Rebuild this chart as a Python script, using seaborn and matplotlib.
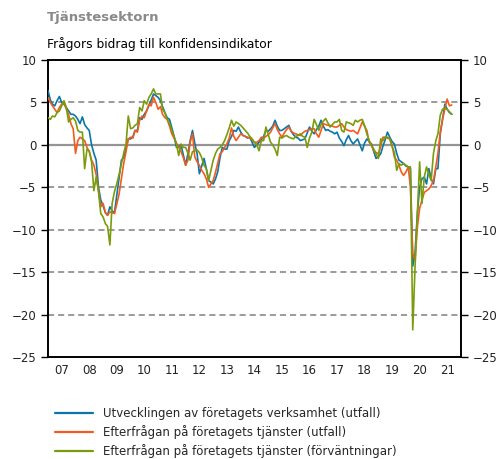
import numpy as np
import pandas as pd
import matplotlib
matplotlib.use("Agg")
import matplotlib.pyplot as plt
import matplotlib.dates as mdates
import seaborn as sns

# ── Data (monthly, Jan 2007 – Sep 2021) ───────────────────────────────────
START = "2007-01-01"

verksamhet_utfall = [
    6.4, 5.3, 4.8, 4.6, 5.2, 5.7, 5.0, 4.8, 4.4, 4.0, 3.6, 3.6,          # 2007
    3.4, 3.0, 2.5, 3.3, 2.4, 2.0, 1.7, 0.0, -1.0, -1.8, -5.0, -6.5,      # 2008
    -7.2, -8.0, -8.3, -7.3, -7.8, -8.0, -6.0, -4.0, -1.8, -1.5, -0.3, 0.7,  # 2009
    0.7, 1.0, 1.7, 1.7, 3.2, 3.0, 3.6, 4.0, 4.6, 5.3, 6.0, 5.8,          # 2010
    5.6, 5.2, 4.5, 3.8, 3.2, 3.0, 2.0, 1.0, -0.3, -0.2, 0.0, -1.2,       # 2011
    -2.4, -1.0, 0.5, 1.7, 0.2, -1.05, -3.4, -2.5, -1.6, -2.8, -4.2, -4.4,  # 2012
    -4.6, -4.0, -3.2, -1.5, -0.3, -0.5, -0.5, 0.5, 1.0, 1.7, 1.6, 2.1,   # 2013
    1.5, 1.1, 1.0, 0.8, 0.9, 0.3, -0.3, 0.0, 0.3, 0.6, 1.0, 1.7,         # 2014
    1.6, 1.9, 2.2, 2.9, 2.2, 1.7, 1.7, 1.9, 2.1, 2.3, 1.6, 1.2,          # 2015
    0.9, 0.8, 0.5, 0.6, 0.7, 1.4, 2.1, 1.6, 1.3, 1.8, 2.2, 2.9,          # 2016
    2.2, 1.7, 1.8, 1.6, 1.5, 1.3, 1.5, 0.8, 0.4, -0.1, 0.6, 1.1,         # 2017
    0.5, 0.1, 0.4, 0.7, 0.0, -0.7, 0.2, 0.7, 0.4, 0.1, -0.8, -1.6,       # 2018
    -1.4, -1.05, -0.2, 0.6, 1.5, 0.9, 0.4, 0.1, -1.0, -1.8, -2.0, -2.2,  # 2019
    -2.5, -2.6, -2.8, -14.3, -12.8, -8.1, -5.0, -4.0, -3.8, -4.6, -2.8, -4.0,  # 2020
    -4.6, -2.8, -2.8, 1.3, 3.0, 4.8, 4.2, 3.8, 3.6,                      # 2021
]

efterfragan_utfall = [
    5.6, 5.0, 4.6, 4.2, 3.8, 4.4, 4.8, 5.0, 4.2, 3.6, 2.5, 1.9,
    -1.0, 0.5, 0.9, 0.7, 0.5, -0.3, -0.8, -1.8, -2.4, -3.5, -5.4, -7.3,
    -6.9, -8.0, -8.3, -7.9, -8.0, -8.1, -7.0, -5.8, -4.0, -2.2, -0.8, 0.7,
    0.9, 0.8, 1.7, 1.5, 2.9, 3.4, 3.2, 4.0, 4.8, 4.6, 5.6, 5.0,
    4.2, 4.5, 3.6, 3.2, 3.0, 2.2, 1.3, 0.8, 0.2, -0.3, -0.8, -1.5,
    -2.4, -1.8, 0.3, 1.3, -1.4, -2.0, -2.4, -3.0, -3.4, -4.0, -5.0, -4.6,
    -4.2, -3.2, -2.2, -1.05, -0.8, -0.3, 0.1, 0.8, 2.0, 1.0, 0.5, 0.9,
    1.3, 1.1, 1.0, 0.9, 0.8, 0.6, 0.3, 0.3, 0.5, 0.9, 0.8, 1.0,
    1.2, 1.5, 2.0, 2.5, 1.8, 1.3, 0.9, 1.4, 1.8, 2.1, 1.6, 1.4,
    1.3, 1.2, 1.1, 1.4, 1.6, 1.7, 1.8, 1.9, 1.9, 1.3, 0.9, 1.7,
    2.5, 2.4, 2.3, 2.3, 2.2, 2.1, 2.1, 2.3, 2.5, 2.1, 1.8, 1.7,
    1.6, 1.7, 1.5, 1.3, 2.0, 2.7, 2.2, 1.7, 0.3, 0.0, -0.7, -0.9,
    -1.05, -0.2, 0.9, 0.9, 0.8, 0.7, 0.0, -1.45, -1.8, -2.4, -3.2, -3.6,
    -3.2, -2.6, -5.0, -12.8, -13.6, -9.7, -7.5, -6.5, -5.6, -5.4, -5.2, -4.8,
    -4.2, -2.6, -1.0, 1.5, 3.0, 4.2, 5.4, 4.6, 4.7,
]

efterfragan_forvantn = [
    3.2, 3.0, 3.4, 3.3, 3.8, 4.0, 4.6, 5.2, 4.4, 2.7, 3.0, 3.2,
    2.8, 1.7, 1.5, 1.5, -2.8, -0.5, -0.7, -2.0, -5.4, -3.8, -5.5, -8.1,
    -8.5, -9.3, -9.6, -11.8, -6.9, -5.5, -4.6, -3.5, -2.2, -1.0, 0.1, 3.4,
    1.9, 2.0, 2.3, 2.5, 4.4, 4.0, 5.2, 4.8, 5.6, 6.0, 6.6, 6.0,
    6.0, 6.0, 4.2, 3.8, 3.0, 2.5, 1.7, 1.0, 0.1, -1.25, 0.1, -0.3,
    -0.3, -1.0, -1.8, -0.8, -0.7, -0.6, -0.9, -1.5, -2.4, -2.8, -4.2, -3.0,
    -1.8, -1.0, -0.5, -0.3, 0.0, 0.5, 1.2, 2.0, 2.9, 2.2, 2.7, 2.5,
    2.3, 2.0, 1.7, 1.4, 1.0, 0.7, 0.3, 0.0, -0.7, 0.5, 0.5, 2.1,
    1.2, 0.3, 0.0, -0.5, -1.25, 0.9, 0.8, 1.0, 1.1, 0.9, 0.8, 0.7,
    1.0, 1.1, 1.3, 1.0, 0.9, -0.3, 0.8, 1.5, 3.0, 2.4, 1.7, 2.4,
    2.8, 3.1, 2.6, 2.1, 2.4, 2.7, 2.7, 3.0, 1.7, 1.5, 2.7, 2.6,
    2.5, 2.3, 2.9, 2.7, 2.9, 3.0, 2.3, 1.3, 0.5, -0.1, -0.5, -1.05,
    -1.6, 0.7, 0.5, 0.9, 0.9, 0.7, -0.2, -0.9, -3.0, -2.2, -2.4, -2.2,
    -2.4, -2.6, -2.6, -21.8, -14.5, -8.0, -2.0, -6.9, -3.8, -2.6, -3.5, -4.2,
    -1.0, 0.5, 1.3, 3.5, 4.2, 4.3, 4.2, 3.9, 3.6,
]

SERIES = [
    "Utvecklingen av företagets verksamhet (utfall)",
    "Efterfrågan på företagets tjänster (utfall)",
    "Efterfrågan på företagets tjänster (förväntningar)",
]
COLORS = ["#0b76a8", "#f45b1c", "#7a9c0c"]

YTICKS = [10, 5, 0, -5, -10, -15, -20, -25]
DASHED = [5, -5, -10, -15, -20]

# ── Long frame for seaborn ────────────────────────────────────────────────
dates = pd.date_range(START, periods=len(verksamhet_utfall), freq="MS")
df = pd.concat([
    pd.DataFrame({"datum": dates, "varde": vals, "serie": name})
    for name, vals in zip(SERIES, [verksamhet_utfall, efterfragan_utfall,
                                   efterfragan_forvantn])
])

sns.set_style("white")
plt.rcParams["font.family"] = ["DejaVu Sans"]

fig = plt.figure(figsize=(5.01, 4.59), dpi=100)
ax = fig.add_axes([48 / 501, 1 - 357 / 459, 413 / 501, 297 / 459])

# reference lines
for v in DASHED:
    ax.axhline(v, color="#808080", lw=1.1, dashes=(4, 2.6), zorder=1)
ax.axhline(0, color="#959595", lw=1.6, zorder=1)

sns.lineplot(data=df, x="datum", y="varde", hue="serie",
             palette=dict(zip(SERIES, COLORS)), lw=1.2, ax=ax, zorder=3)

handles, labels = ax.get_legend_handles_labels()
ax.get_legend().remove()

ax.set_xlim(pd.Timestamp("2007-01-01"), pd.Timestamp("2022-01-01"))
ax.set_ylim(-25, 10)
ax.set_yticks(YTICKS)
ax.set_xlabel("")
ax.set_ylabel("")

ax.xaxis.set_major_locator(mdates.YearLocator())
ax.xaxis.set_major_formatter(plt.NullFormatter())
ax.xaxis.set_minor_locator(mdates.MonthLocator(bymonth=7))
ax.xaxis.set_minor_formatter(mdates.DateFormatter("%y"))

for s in ax.spines.values():
    s.set_color("black")
    s.set_linewidth(1.4)

ax.tick_params(axis="x", which="major", length=5, width=1, color="black",
               direction="out")
ax.tick_params(axis="x", which="minor", length=0, labelsize=8.5, pad=5,
               labelcolor="#222222")
ax.tick_params(axis="y", left=True, right=True, labelleft=True,
               labelright=True, length=5, width=1, color="black",
               labelsize=8.5, labelcolor="#222222", direction="out")

fig.text(47 / 501, 1 - 18 / 459, "Tjänstesektorn", fontsize=9.5,
         fontweight="bold", color="#8a8a8a", va="center", ha="left")
fig.text(47 / 501, 1 - 44 / 459, "Frågors bidrag till konfidensindikator",
         fontsize=8.8, color="black", va="center", ha="left")

for h in handles:
    h.set_linewidth(1.6)

fig.legend(handles, labels, loc="upper left",
           bbox_to_anchor=(55 / 501, 1 - 407 / 459), frameon=False,
           fontsize=8.5, handlelength=3.2, handletextpad=0.85,
           labelspacing=0.42, borderaxespad=0, borderpad=0)

fig.savefig("out.png", dpi=100, facecolor="white")
